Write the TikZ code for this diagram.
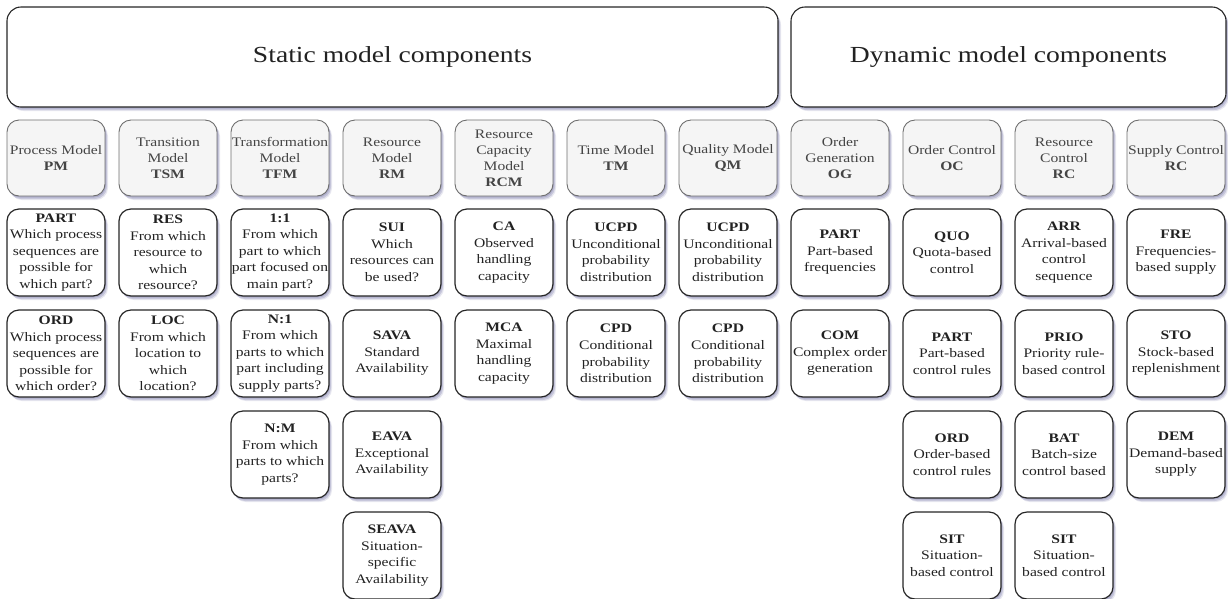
\documentclass[tikz,border=0pt]{standalone}
\usepackage{fontspec}
\setmainfont{Liberation Serif}[FakeStretch=1.2]
\usetikzlibrary{shadows}
\definecolor{hdrfill}{HTML}{F5F5F5}
\definecolor{hdrline}{HTML}{6E6E6E}
\definecolor{shc}{HTML}{7C7CAA}
\definecolor{txt}{HTML}{222222}
\definecolor{htxt}{HTML}{444444}
\begin{document}
\begin{tikzpicture}[x=1pt,y=1pt,
  sh/.style={drop shadow={shadow xshift=3pt,shadow yshift=-4pt,fill=shc,opacity=0.18},
             drop shadow={shadow xshift=2pt,shadow yshift=-3pt,fill=shc,opacity=0.3},
             drop shadow={shadow xshift=1pt,shadow yshift=-1.5pt,fill=shc,opacity=0.35}},
  topbox/.style={sh,draw=black!85,fill=white,line width=1.1pt,rounded corners=14pt,
      minimum height=100pt,inner sep=0pt,font=\fontsize{23}{28}\selectfont,text=txt},
  hdr/.style={sh,draw=hdrline,fill=hdrfill,line width=0.9pt,rounded corners=12pt,
      minimum width=98pt,minimum height=76pt,inner sep=0pt,align=center,
      font=\fontsize{13}{16}\selectfont,text=htxt},
  cell/.style={sh,draw=black!85,fill=white,line width=1.2pt,rounded corners=12pt,
      minimum width=98pt,minimum height=87pt,inner sep=0pt,align=center,
      font=\fontsize{13}{16.5}\selectfont,text=txt}]
\useasboundingbox (0,0) rectangle (1228,-598);

\node[topbox,minimum width=771pt] (static) at (392.5,-57) {Static model components};
\node[topbox,minimum width=435pt] (dynamic) at (1008.5,-57) {Dynamic model components};

% headers
\node[hdr] (h1) at (56,-158) {Process Model\\\textbf{PM}};
\node[hdr] (h2) at (168,-158) {Transition\\Model\\\textbf{TSM}};
\node[hdr] (h3) at (280,-158) {Transformation\\Model\\\textbf{TFM}};
\node[hdr] (h4) at (392,-158) {Resource\\Model\\\textbf{RM}};
\node[hdr] (h5) at (504,-158) {Resource\\Capacity\\Model\\\textbf{RCM}};
\node[hdr] (h6) at (616,-158) {Time Model\\\textbf{TM}};
\node[hdr] (h7) at (728,-158) {Quality Model\\\textbf{QM}};
\node[hdr] (h8) at (840,-158) {Order\\Generation\\\textbf{OG}};
\node[hdr] (h9) at (952,-158) {Order Control\\\textbf{OC}};
\node[hdr] (h10) at (1064,-158) {Resource\\Control\\\textbf{RC}};
\node[hdr] (h11) at (1176,-158) {Supply Control\\\textbf{RC}};

% column 1
\node[cell] (c1r1) at (56,-252.5) {\textbf{PART}\\Which process\\sequences are\\possible for\\which part?};
\node[cell] (c1r2) at (56,-353.5) {\textbf{ORD}\\Which process\\sequences are\\possible for\\which order?};
% column 2
\node[cell] (c2r1) at (168,-252.5) {\textbf{RES}\\From which\\resource to\\which\\resource?};
\node[cell] (c2r2) at (168,-353.5) {\textbf{LOC}\\From which\\location to\\which\\location?};
% column 3
\node[cell] (c3r1) at (280,-252.5) {\textbf{1:1}\\From which\\part to which\\part focused on\\main part?};
\node[cell] (c3r2) at (280,-353.5) {\textbf{N:1}\\From which\\parts to which\\part including\\supply parts?};
\node[cell] (c3r3) at (280,-454.5) {\textbf{N:M}\\From which\\parts to which\\parts?};
% column 4
\node[cell] (c4r1) at (392,-252.5) {\textbf{SUI}\\Which\\resources can\\be used?};
\node[cell] (c4r2) at (392,-353.5) {\textbf{SAVA}\\Standard\\Availability};
\node[cell] (c4r3) at (392,-454.5) {\textbf{EAVA}\\Exceptional\\Availability};
\node[cell] (c4r4) at (392,-555.5) {\textbf{SEAVA}\\Situation-\\specific\\Availability};
% column 5
\node[cell] (c5r1) at (504,-252.5) {\textbf{CA}\\Observed\\handling\\capacity};
\node[cell] (c5r2) at (504,-353.5) {\textbf{MCA}\\Maximal\\handling\\capacity};
% column 6
\node[cell] (c6r1) at (616,-252.5) {\textbf{UCPD}\\Unconditional\\probability\\distribution};
\node[cell] (c6r2) at (616,-353.5) {\textbf{CPD}\\Conditional\\probability\\distribution};
% column 7
\node[cell] (c7r1) at (728,-252.5) {\textbf{UCPD}\\Unconditional\\probability\\distribution};
\node[cell] (c7r2) at (728,-353.5) {\textbf{CPD}\\Conditional\\probability\\distribution};
% column 8
\node[cell] (c8r1) at (840,-252.5) {\textbf{PART}\\Part-based\\frequencies};
\node[cell] (c8r2) at (840,-353.5) {\textbf{COM}\\Complex order\\generation};
% column 9
\node[cell] (c9r1) at (952,-252.5) {\textbf{QUO}\\Quota-based\\control};
\node[cell] (c9r2) at (952,-353.5) {\textbf{PART}\\Part-based\\control rules};
\node[cell] (c9r3) at (952,-454.5) {\textbf{ORD}\\Order-based\\control rules};
\node[cell] (c9r4) at (952,-555.5) {\textbf{SIT}\\Situation-\\based control};
% column 10
\node[cell] (c10r1) at (1064,-252.5) {\textbf{ARR}\\Arrival-based\\control\\sequence};
\node[cell] (c10r2) at (1064,-353.5) {\textbf{PRIO}\\Priority rule-\\based control};
\node[cell] (c10r3) at (1064,-454.5) {\textbf{BAT}\\Batch-size\\control based};
\node[cell] (c10r4) at (1064,-555.5) {\textbf{SIT}\\Situation-\\based control};
% column 11
\node[cell] (c11r1) at (1176,-252.5) {\textbf{FRE}\\Frequencies-\\based supply};
\node[cell] (c11r2) at (1176,-353.5) {\textbf{STO}\\Stock-based\\replenishment};
\node[cell] (c11r3) at (1176,-454.5) {\textbf{DEM}\\Demand-based\\supply};
\end{tikzpicture}
\end{document}
